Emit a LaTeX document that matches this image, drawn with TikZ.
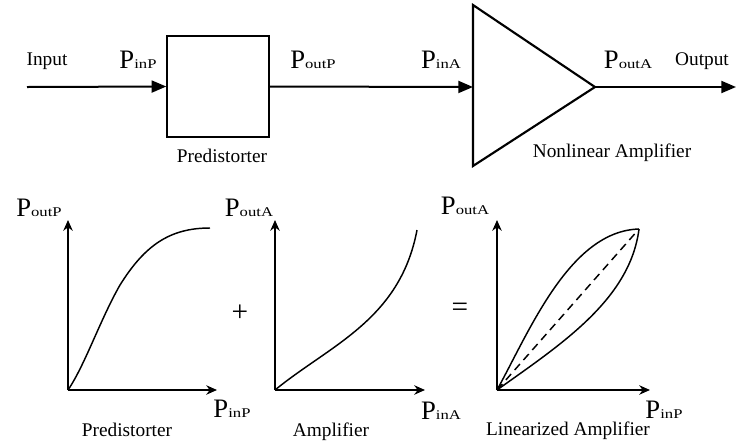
\documentclass[tikz,border=0pt]{standalone}
\usepackage{fontspec}
\setmainfont{Liberation Serif}
\newfontfamily\subfont[FakeStretch=1.25]{Liberation Serif}
\usetikzlibrary{arrows.meta}
\newcommand{\PL}[1]{{\fontsize{20}{20}\selectfont P}{\subfont\fontsize{10}{10}\selectfont #1}}
\tikzset{
  lbl/.style={font=\fontsize{14.5}{14.5}\selectfont, inner sep=0pt, anchor=base},
  plbl/.style={inner sep=0pt, anchor=base},
  opsym/.style={font=\fontsize{22}{22}\selectfont, inner sep=0pt},
  sig/.style={line width=1.5pt, -{Triangle[length=11pt,width=9pt]}},
  axis/.style={line width=1.6pt, -{Stealth[length=8pt,width=7pt,inset=2.5pt]}},
  curve/.style={line width=1.1pt},
  blk/.style={draw, line width=1.1pt, minimum width=76.5pt, minimum height=75.75pt, inner sep=0pt},
}
\begin{document}
\begin{tikzpicture}[x=0.75pt,y=-0.75pt]
\useasboundingbox (0,0) rectangle (736,444);
% ---------- top row ----------
\coordinate (in) at (27,87);
\node[blk] (pre) at (218,86.5) {};
\coordinate (tL) at (473,87);
\coordinate (tTop) at (473,5);
\coordinate (tBot) at (473,166);
\coordinate (tTip) at (595,87);
\coordinate (out) at (736,87);
\draw[line width=1.6pt, line join=miter] (tTop) -- (tTip) -- (tBot) -- cycle;
\draw[sig] (in) -- (pre.west);
\draw[sig] (pre.east) -- (tL);
\draw[sig] (tTip) -- (out);
\node[lbl] (linput) at (47,65) {Input};
\node[plbl] (lpinp) at (138,68) {\PL{inP}};
\node[plbl] (lpoutp) at (313,68) {\PL{outP}};
\node[plbl] (lpina) at (441,68) {\PL{inA}};
\node[plbl] (lpouta) at (628,68) {\PL{outA}};
\node[lbl] (loutput) at (702,65) {Output};
\node[lbl] (lpre) at (222,162) {Predistorter};
\node[lbl] (lnla) at (612,157) {Nonlinear Amplifier};
% ---------- graph 1 ----------
\coordinate (o1) at (68,390);
\coordinate (y1) at (68,220);
\coordinate (x1) at (217,390);
\coordinate (e1) at (210,228);
\draw[axis] (o1) -- (y1);
\draw[axis] (o1) -- (x1);
\draw[curve] (o1) .. controls (85,365) and (100,320) .. (120,285) .. controls (145,245) and (170,228) .. (e1);
\node[plbl] (g1y) at (39,216) {\PL{outP}};
\node[plbl] (g1x) at (232,417) {\PL{inP}};
\node[lbl] (g1t) at (127,436) {Predistorter};
% ---------- plus ----------
\node[opsym] (plus) at (240,313) {+};
% ---------- graph 2 ----------
\coordinate (o2) at (275,390);
\coordinate (y2) at (275,220);
\coordinate (x2) at (425,390);
\coordinate (e2) at (417,230);
\draw[axis] (o2) -- (y2);
\draw[axis] (o2) -- (x2);
\draw[curve] (o2) .. controls (330,345) and (400,320) .. (e2);
\node[plbl] (g2y) at (249,216) {\PL{outA}};
\node[plbl] (g2x) at (441,419) {\PL{inA}};
\node[lbl] (g2t) at (331,436) {Amplifier};
% ---------- equals ----------
\node[opsym] (eq) at (460,310) {=};
% ---------- graph 3 ----------
\coordinate (o3) at (497,390);
\coordinate (y3) at (497,220);
\coordinate (x3) at (650,390);
\coordinate (e3) at (639,229);
\draw[axis] (o3) -- (y3);
\draw[axis] (o3) -- (x3);
\draw[curve] (o3) .. controls (530,330) and (570,231) .. (e3);
\draw[curve] (o3) .. controls (560,345) and (630,300) .. (e3);
\draw[curve, dash pattern=on 6pt off 4pt] (o3) -- (e3);
\node[plbl] (g3y) at (465,214) {\PL{outA}};
\node[plbl] (g3x) at (664,418) {\PL{inP}};
\node[lbl] (g3t) at (568,435) {Linearized Amplifier};
\end{tikzpicture}
\end{document}
